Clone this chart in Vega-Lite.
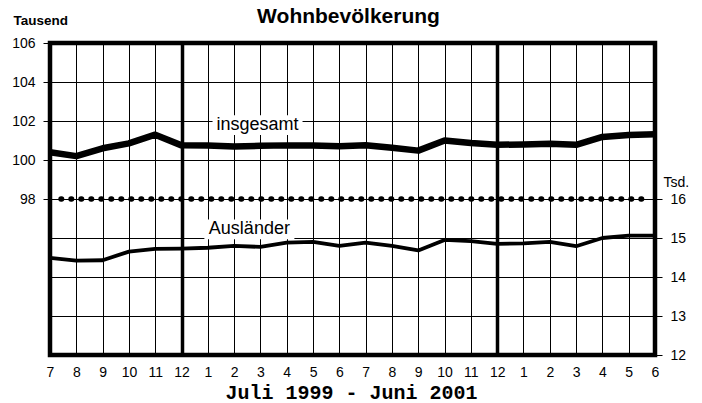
{
  "$schema": "https://vega.github.io/schema/vega-lite/v6.json",
  "autosize": {"type": "none"},
  "width": 605,
  "height": 312,
  "padding": {"left": 50, "top": 43, "right": 47, "bottom": 48},
  "background": "white",
  "title": {"text": "Wohnbevölkerung", "font": "Liberation Sans", "fontSize": 21, "fontWeight": "bold", "color": "black", "anchor": "middle", "dx": -4, "dy": 18},
  "config": {
    "view": {"stroke": "black", "strokeWidth": 4.5},
    "font": "Liberation Sans",
    "axis": {"labelFont": "Liberation Sans", "labelFontSize": 14, "labelColor": "black", "titleColor": "black", "titleFont": "Liberation Sans"}
  },
  "datasets": {
    "monate": [
      {"i": 0, "monat": "1999-07", "insgesamt": 100.4, "auslaender": 14.49},
      {"i": 1, "monat": "1999-08", "insgesamt": 100.2, "auslaender": 14.42},
      {"i": 2, "monat": "1999-09", "insgesamt": 100.6, "auslaender": 14.43},
      {"i": 3, "monat": "1999-10", "insgesamt": 100.85, "auslaender": 14.65},
      {"i": 4, "monat": "1999-11", "insgesamt": 101.3, "auslaender": 14.72},
      {"i": 5, "monat": "1999-12", "insgesamt": 100.75, "auslaender": 14.73},
      {"i": 6, "monat": "2000-01", "insgesamt": 100.74, "auslaender": 14.75},
      {"i": 7, "monat": "2000-02", "insgesamt": 100.69, "auslaender": 14.8},
      {"i": 8, "monat": "2000-03", "insgesamt": 100.73, "auslaender": 14.77},
      {"i": 9, "monat": "2000-04", "insgesamt": 100.75, "auslaender": 14.88},
      {"i": 10, "monat": "2000-05", "insgesamt": 100.74, "auslaender": 14.9},
      {"i": 11, "monat": "2000-06", "insgesamt": 100.7, "auslaender": 14.8},
      {"i": 12, "monat": "2000-07", "insgesamt": 100.76, "auslaender": 14.88},
      {"i": 13, "monat": "2000-08", "insgesamt": 100.63, "auslaender": 14.8},
      {"i": 14, "monat": "2000-09", "insgesamt": 100.48, "auslaender": 14.68},
      {"i": 15, "monat": "2000-10", "insgesamt": 101.0, "auslaender": 14.95},
      {"i": 16, "monat": "2000-11", "insgesamt": 100.87, "auslaender": 14.92},
      {"i": 17, "monat": "2000-12", "insgesamt": 100.78, "auslaender": 14.85},
      {"i": 18, "monat": "2001-01", "insgesamt": 100.8, "auslaender": 14.86},
      {"i": 19, "monat": "2001-02", "insgesamt": 100.83, "auslaender": 14.9},
      {"i": 20, "monat": "2001-03", "insgesamt": 100.78, "auslaender": 14.79},
      {"i": 21, "monat": "2001-04", "insgesamt": 101.18, "auslaender": 15.0},
      {"i": 22, "monat": "2001-05", "insgesamt": 101.28, "auslaender": 15.06},
      {"i": 23, "monat": "2001-06", "insgesamt": 101.32, "auslaender": 15.06}
    ],
    "beschriftung": [
      {"label": "insgesamt", "i": 7.89, "v": 101.79},
      {"label": "Ausländer", "i": 7.58, "v": 96.44}
    ],
    "trennlinie": [
      {"von": 0.42, "bis": 22.5, "wert": 98}
    ]
  },
  "data": {"name": "monate"},
  "encoding": {
    "x": {
      "field": "i",
      "type": "quantitative",
      "scale": {"domain": [0, 23], "nice": false, "zero": false},
      "axis": {
        "values": [0, 1, 2, 3, 4, 5, 6, 7, 8, 9, 10, 11, 12, 13, 14, 15, 16, 17, 18, 19, 20, 21, 22, 23],
        "labelExpr": "(datum.value + 6) % 12 + 1",
        "labelFlush": false,
        "labelOverlap": false,
        "labelBound": false,
        "ticks": false,
        "domain": false,
        "grid": true,
        "gridColor": "black",
        "gridOpacity": 1,
        "gridWidth": {"condition": {"test": "datum.value == 5 || datum.value == 17", "value": 3.5}, "value": 1},
        "labelPadding": 10,
        "title": "Juli 1999 - Juni 2001",
        "titleFont": "Liberation Mono",
        "titleFontSize": 20,
        "titleFontWeight": "bold",
        "titleX": 301,
        "titleY": 43,
        "titleAlign": "center",
        "titleBaseline": "alphabetic"
      }
    }
  },
  "layer": [
    {
      "data": {"name": "beschriftung"},
      "mark": {"type": "point", "shape": "M-1,-0.22H1V0.22H-1Z", "size": 8100, "filled": true, "fill": "white", "opacity": 1, "strokeWidth": 0},
      "encoding": {
        "y": {"field": "v", "type": "quantitative", "scale": {"domain": [90, 106], "nice": false, "zero": false}, "axis": null}
      }
    },
    {
      "data": {"name": "trennlinie"},
      "mark": {"type": "rule", "stroke": "black", "strokeWidth": 5.5, "strokeDash": [0.5, 9.5], "strokeCap": "round", "opacity": 1},
      "encoding": {
        "x": {"field": "von", "type": "quantitative"},
        "x2": {"field": "bis"},
        "y": {"field": "wert", "type": "quantitative", "scale": {"domain": [90, 106], "nice": false, "zero": false}, "axis": null}
      }
    },
    {
      "mark": {"type": "line", "color": "black", "strokeWidth": 6.5, "strokeJoin": "round"},
      "encoding": {
        "y": {
          "field": "insgesamt",
          "type": "quantitative",
          "scale": {"domain": [90, 106], "nice": false, "zero": false},
          "axis": {
            "orient": "left",
            "values": [98, 100, 102, 104, 106],
            "grid": true,
            "gridColor": "black",
            "gridOpacity": 1,
            "gridWidth": 1,
            "domain": false,
            "tickColor": "black",
            "tickSize": 7,
            "labelPadding": 8,
            "title": "Tausend",
            "titleAngle": 0,
            "titleX": -37,
            "titleY": -19,
            "titleAlign": "left",
            "titleBaseline": "alphabetic",
            "titleFontSize": 13.5,
            "titleFontWeight": "bold"
          }
        }
      }
    },
    {
      "mark": {"type": "line", "color": "black", "strokeWidth": 3.8, "strokeJoin": "round"},
      "encoding": {
        "y": {
          "field": "auslaender",
          "type": "quantitative",
          "scale": {"domain": [12, 20], "nice": false, "zero": false},
          "axis": {
            "orient": "right",
            "values": [12, 13, 14, 15, 16],
            "grid": true,
            "gridColor": "black",
            "gridOpacity": 1,
            "gridWidth": 1,
            "domain": false,
            "tickColor": "black",
            "tickSize": 7,
            "labelPadding": 8,
            "title": "Tsd.",
            "titleAngle": 0,
            "titleX": 8,
            "titleY": 143,
            "titleAlign": "left",
            "titleBaseline": "alphabetic",
            "titleFontSize": 14,
            "titleFontWeight": "normal"
          }
        }
      }
    },
    {
      "data": {"name": "beschriftung"},
      "mark": {"type": "text", "font": "Liberation Sans", "fontSize": 18, "color": "black", "align": "center", "baseline": "middle"},
      "encoding": {
        "text": {"field": "label"},
        "y": {"field": "v", "type": "quantitative", "scale": {"domain": [90, 106], "nice": false, "zero": false}, "axis": null}
      }
    }
  ],
  "resolve": {"scale": {"y": "independent"}, "axis": {"y": "independent"}}
}
